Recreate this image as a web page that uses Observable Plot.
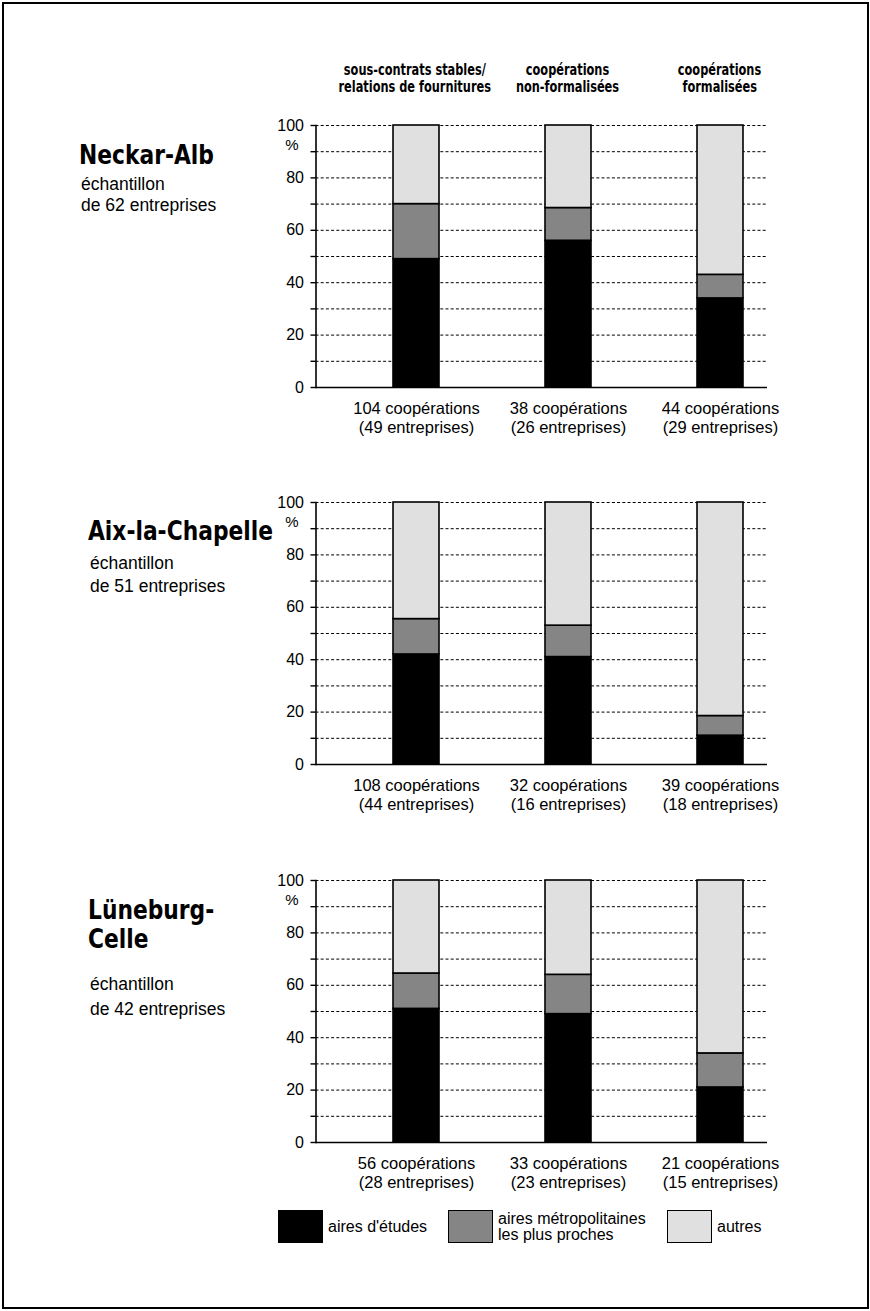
<!DOCTYPE html>
<html>
<head>
<meta charset="utf-8">
<script src="https://cdn.jsdelivr.net/npm/d3@7"></script>
<script src="https://cdn.jsdelivr.net/npm/@observablehq/plot@0.6"></script>
<style>
  body { margin: 0; background: #fff; }
  #page { position: relative; width: 870px; height: 1311px; overflow: hidden; background: #fff;
          font-family: "Liberation Sans", Arial, Helvetica, sans-serif; color: #000; }
  #frame { position: absolute; left: 2px; top: 2px; width: 863px; height: 1303px; border: 2px solid #000; }
  .abs { position: absolute; white-space: nowrap; line-height: 1; }
  .cond { font-family: "Liberation Sans Narrow", "Arial Narrow", "DejaVu Sans Condensed", "Liberation Sans", sans-serif;
          font-weight: bold; font-stretch: condensed; }
  .fit { display: inline-block; }
  .panel { position: absolute; }
  .panel svg { overflow: visible; }
  .swatch { position: absolute; box-sizing: border-box; border: 1.5px solid #000; }
</style>
</head>
<body>
<div id="page">
  <div id="frame"></div>
</div>
<script>
// ---------- data ----------
const regionTitles = [["Neckar-Alb"], ["Aix-la-Chapelle"], ["Lüneburg-", "Celle"]];
const sampleSizes = [62, 51, 42];
const types = ["sous-contrats stables/ relations de fournitures", "coopérations non-formalisées", "coopérations formalisées"];
const typeLines = [["sous-contrats stables/", "relations de fournitures"], ["coopérations", "non-formalisées"], ["coopérations", "formalisées"]];
const zones = ["aires d'études", "aires métropolitaines les plus proches", "autres"];
const zoneLines = [["aires d'études"], ["aires métropolitaines", "les plus proches"], ["autres"]];
// percent shares per region (rows) and cooperation type (columns)
const etudes = [[49, 56, 34], [42, 41, 11], [51, 49, 21]];
const metro  = [[21, 12.5, 9], [13.5, 12, 7.5], [13.5, 15, 13]];
const autres = [[30, 31.5, 57], [44.5, 47, 81.5], [35.5, 36, 66]];
const cooperations = [[104, 38, 44], [108, 32, 39], [56, 33, 21]];
const entreprises  = [[49, 26, 29], [44, 16, 18], [28, 23, 15]];
const yTicks = [0, 20, 40, 60, 80, 100];
const yMinorTicks = [10, 30, 50, 70, 90];
const yGrid = [10, 20, 30, 40, 50, 60, 70, 80, 90, 100];

// ---------- layout ----------
const zoneColors = ["#000000", "#858585", "#e0e0e0"];
const page = document.getElementById("page");
const panelTops = [125, 501.5, 880];   // y of the 100% line
const plotH = 262, mT = 15, mB = 62;
const svgLeft = 260, svgW = 540, mL = 55.5, mR = 33;

function addText(txt, x, baseline, size, cls, align) {
  const d = document.createElement("div");
  d.className = "abs " + (cls || "");
  d.style.fontSize = size + "px";
  d.style.top = (baseline - 0.8465 * size) + "px";
  const s = document.createElement("span");
  s.className = "fit";
  s.textContent = txt;
  d.appendChild(s);
  if (align === "center") {
    d.style.left = (x - 200) + "px"; d.style.width = "400px"; d.style.textAlign = "center";
    s.style.transformOrigin = "50% 50%";
  } else {
    d.style.left = x + "px";
    s.style.transformOrigin = "0 50%";
  }
  page.appendChild(d);
  return s;
}

function panel(r) {
  const data = [];
  types.forEach((t, i) => {
    data.push({type: t, zone: zones[0], value: etudes[r][i]});
    data.push({type: t, zone: zones[1], value: metro[r][i]});
    data.push({type: t, zone: zones[2], value: autres[r][i]});
  });
  const chart = Plot.plot({
    width: svgW, height: mT + plotH + mB,
    marginLeft: mL, marginRight: mR, marginTop: mT, marginBottom: mB,
    style: {fontFamily: "'Liberation Sans', Arial, sans-serif", fontSize: "16px", color: "#000", background: "transparent", overflow: "visible"},
    x: {domain: types, paddingInner: 0.7, paddingOuter: 0.327, align: 0.76, axis: null, label: null},
    y: {domain: [0, 100], axis: null, label: null},
    color: {domain: zones, range: zoneColors},
    marks: [
      Plot.gridY(yGrid, {stroke: "#000", strokeOpacity: 1, strokeWidth: 1, strokeDasharray: "3,2.2"}),
      Plot.barY(data, {x: "type", y: "value", fill: "zone", stroke: "#000", strokeWidth: 1.6}),
      Plot.ruleY([0], {stroke: "#000", strokeWidth: 1.6}),
      Plot.frame({anchor: "left", stroke: "#000", strokeWidth: 1.6}),
      Plot.axisY({ticks: yTicks, tickSize: 5, tickPadding: 7, fontSize: 16, strokeWidth: 1.4, label: null}),
      Plot.axisY({ticks: yMinorTicks, tickSize: 5, tickFormat: () => "", strokeWidth: 1.4, label: null}),
      Plot.text(["%"], {frameAnchor: "top-left", textAnchor: "middle", dx: -24, dy: 14, fontSize: 15}),
      Plot.axisX({tickSize: 0, tickPadding: 12, fontSize: 16.5, lineHeight: 1.2, label: null,
        tickFormat: d => { const i = types.indexOf(d); return `${cooperations[r][i]} coopérations\n(${entreprises[r][i]} entreprises)`; }})
    ]
  });
  const wrap = document.createElement("div");
  wrap.className = "panel";
  wrap.style.left = svgLeft + "px";
  wrap.style.top = (panelTops[r] - mT) + "px";
  wrap.appendChild(chart);
  page.appendChild(wrap);
}
[0, 1, 2].forEach(panel);

// column headers
const barCenters = [414.4, 567.2, 720];
const headerSpans = [];
typeLines.forEach((lines, i) => {
  lines.forEach((ln, j) => headerSpans.push(addText(ln, barCenters[i], 76 + j * 17, 16.5, "cond", "center")));
});

// region titles and sample sizes
const titleBaselines = [[164], [540], [919, 948]];
const subBaselines = [[191, 212], [570, 593], [991, 1016]];
const titleX = [79, 88, 88];
const titleSpans = [];
regionTitles.forEach((lines, r) => {
  lines.forEach((ln, j) => titleSpans.push(addText(ln, titleX[r], titleBaselines[r][j], 26, "cond")));
  addText("échantillon", titleX[r] + 2, subBaselines[r][0], 17.5);
  addText(`de ${sampleSizes[r]} entreprises`, titleX[r] + 2, subBaselines[r][1], 17.5);
});

// legend
const swX = [278, 448, 667];
zones.forEach((z, i) => {
  const sw = document.createElement("div");
  sw.className = "swatch";
  sw.style.left = swX[i] + "px"; sw.style.top = "1210px";
  sw.style.width = "45px"; sw.style.height = "33px";
  sw.style.background = zoneColors[i];
  page.appendChild(sw);
  const lines = zoneLines[i];
  if (lines.length === 1) addText(lines[0], swX[i] + 50, 1233, 16);
  else lines.forEach((ln, j) => addText(ln, swX[i] + 50, 1225 + j * 16, 16));
});

// fit condensed texts to the measured widths of the reference
function widthOf(s) { return s.getBoundingClientRect().width; }
const kHead = 142 / widthOf(headerSpans[0]);
headerSpans.forEach(s => s.style.transform = `scaleX(${kHead})`);
const kTitle = 185 / widthOf(titleSpans[1]);
titleSpans.forEach(s => s.style.transform = `scaleX(${kTitle})`);
</script>
</body>
</html>
